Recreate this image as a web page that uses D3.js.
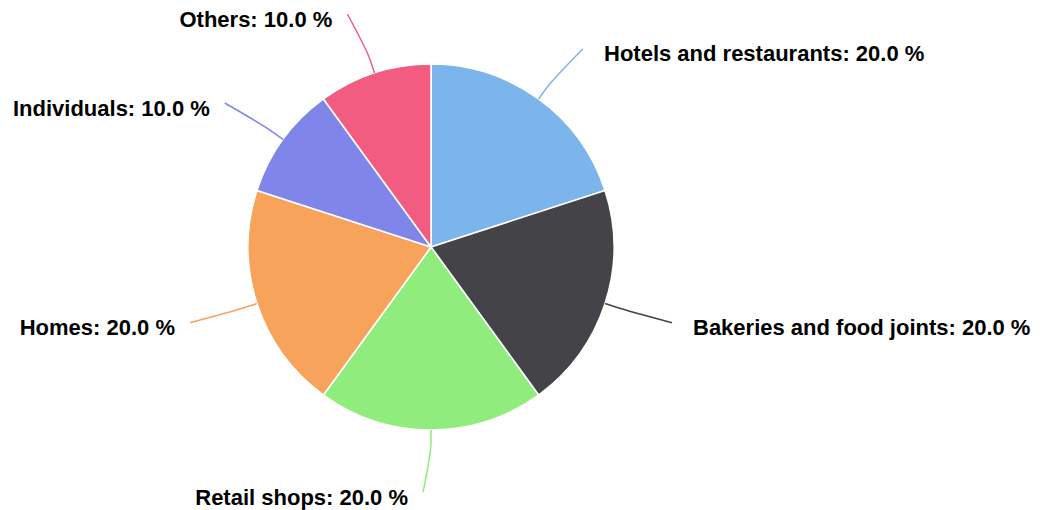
<!DOCTYPE html>
<html><head><meta charset="utf-8">
<script src="https://cdn.jsdelivr.net/npm/d3@7"></script>
<style>html,body{margin:0;padding:0;background:#fff;}svg{display:block;}</style>
</head><body>
<svg id="chart" width="1041" height="510"></svg>
<script>
const categories = ["Hotels and restaurants", "Bakeries and food joints", "Retail shops", "Homes", "Individuals", "Others"];
const values = [20, 20, 20, 20, 10, 10];
const colors = ["#7cb5ec", "#434348", "#90ed7d", "#f7a35c", "#8085e9", "#f15c80"];

const W = 1041, H = 510;
const cx = 431, cy = 247, r = 183;
const labelR = 245, breakOff = 12;

const svg = d3.select("#chart");
const g = svg.append("g").attr("transform", `translate(${cx},${cy})`);

const pie = d3.pie().sort(null).value(d => d.v);
const data = pie(categories.map((c, i) => ({c, v: values[i], col: colors[i]})));
const arc = d3.arc().innerRadius(0).outerRadius(r);
const total = d3.sum(values);

g.selectAll("path.slice").data(data).join("path")
  .attr("class", "slice")
  .attr("d", arc)
  .attr("fill", d => d.data.col)
  .attr("stroke", "#fff")
  .attr("stroke-width", 1.6)
  .attr("stroke-linejoin", "round");

data.forEach(d => {
  const a = (d.startAngle + d.endAngle) / 2;
  const sx = Math.sin(a), sy = -Math.cos(a);
  const left = a >= Math.PI - 1e-9;
  const touch = [r * sx, r * sy];
  const brk = [(r + breakOff) * sx, (r + breakOff) * sy];
  const ax = labelR * sx + (left ? -8 : 8);
  const ay = labelR * sy;
  const p = d3.path();
  p.moveTo(ax, ay);
  p.bezierCurveTo(ax, ay, 2 * brk[0] - touch[0], 2 * brk[1] - touch[1], brk[0], brk[1]);
  p.lineTo(touch[0], touch[1]);
  g.append("path").attr("d", p.toString())
    .attr("fill", "none").attr("stroke", d.data.col).attr("stroke-width", 1.5);
  const pct = (d.data.v / total * 100).toFixed(1);
  g.append("text")
    .attr("x", left ? ax - 15 : ax + 21)
    .attr("y", ay + 12.5)
    .attr("text-anchor", left ? "end" : "start")
    .attr("font-family", "'Liberation Sans', Arial, Helvetica, sans-serif")
    .attr("font-weight", "bold")
    .attr("font-size", "22px")
    .attr("fill", "#000")
    .text(`${d.data.c}: ${pct} %`);
});
</script>
</body></html>
